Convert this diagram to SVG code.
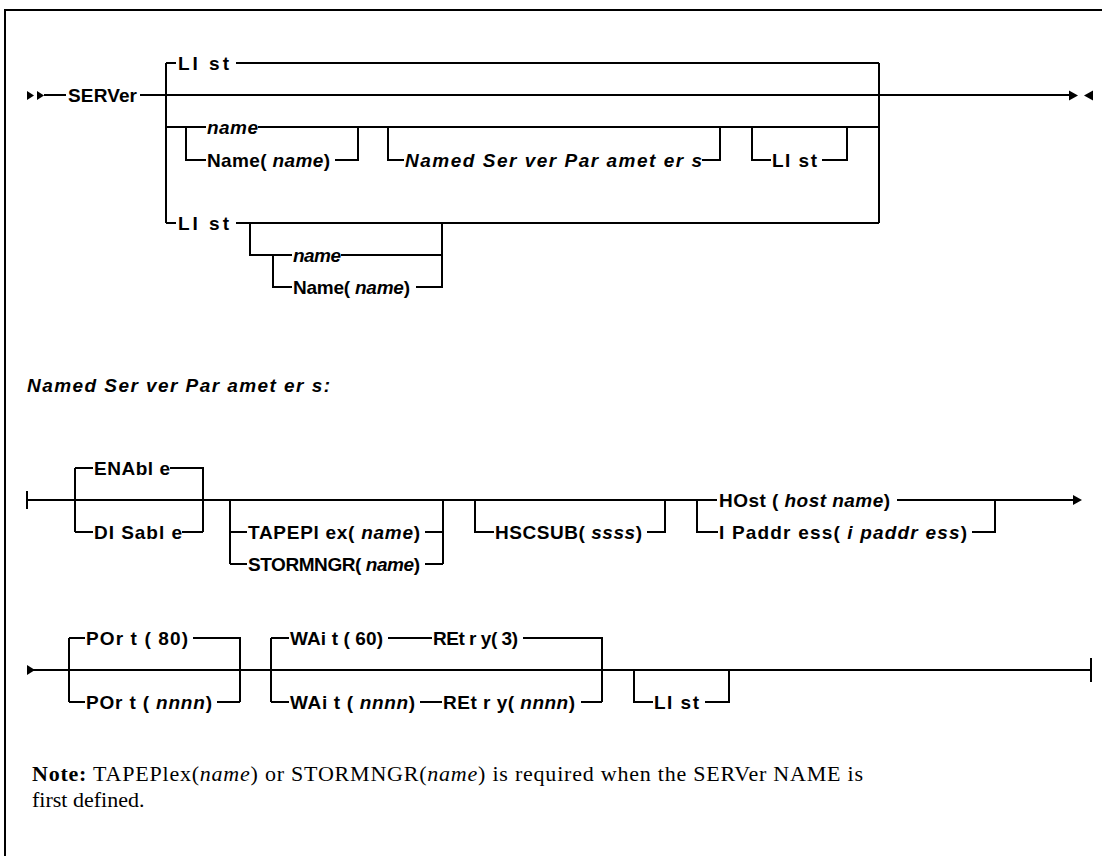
<svg xmlns="http://www.w3.org/2000/svg" width="1102" height="856" viewBox="0 0 1102 856">
<style>
.ln{fill:none;stroke:#000;stroke-width:2;stroke-linecap:butt;stroke-linejoin:miter}
.ah{fill:#000;stroke:none}
.t{font-family:"Liberation Sans",Arial,sans-serif;font-weight:bold;font-size:19px;fill:#000}
.i{font-style:italic}
.n{font-family:"Liberation Serif","Times New Roman",serif;font-size:22px;fill:#000}
.b{font-weight:bold}
</style>
<rect x="0" y="0" width="1102" height="856" fill="#fff"/>
<path class="ln" d="M5,856 V10 H1102"/>

<g id="connectors">
  <!-- top diagram -->
  <polygon class="ah" points="27,91 34,95.5 27,100"/>
  <polygon class="ah" points="37,91 44,95.5 37,100"/>
  <path class="ln" d="M44,95 H66"/>
  <path class="ln" d="M140,95 H1070"/>
  <polygon class="ah" points="1069,90.5 1078,95.5 1069,100.5"/>
  <polygon class="ah" points="1093,90.5 1084,95.5 1093,100.5"/>
  <path class="ln" d="M166,63 V223"/>
  <path class="ln" d="M879,63 V223"/>
  <path class="ln" d="M166,63 H176 M236,63 H879"/>
  <path class="ln" d="M166,127 H206 M258,127 H879"/>
  <path class="ln" d="M186,127 V160 H206 M335,160 H358 V127"/>
  <path class="ln" d="M388,127 V160 H404 M702,160 H720 V127"/>
  <path class="ln" d="M752,127 V160 H771 M822,160 H847 V127"/>
  <path class="ln" d="M166,223 H176 M236,223 H879"/>
  <path class="ln" d="M250,223 V255 H292 M341,255 H442"/>
  <path class="ln" d="M273,255 V287 H292 M416,287 H442 V223"/>
  <!-- named server parameters -->
  <path class="ln" d="M27,491 V509"/>
  <path class="ln" d="M27,500 H717 M897,500 H1074"/>
  <polygon class="ah" points="1073,495 1082,500 1073,505"/>
  <path class="ln" d="M75,468 V532 M75,468 H93 M170,468 H203 V532 M75,532 H93 M182,532 H203"/>
  <path class="ln" d="M230,500 V564 M230,532 H247 M425,532 H443 M230,564 H247 M425,564 H443 M443,500 V564"/>
  <path class="ln" d="M475,500 V532 H494 M647,532 H665 V500"/>
  <path class="ln" d="M697,500 V532 H718 M972,532 H995 V500"/>
  <!-- bottom row -->
  <polygon class="ah" points="27,665 35,670 27,675"/>
  <path class="ln" d="M27,670 H1091 M1091,658 V682"/>
  <path class="ln" d="M69,638 V702 M69,638 H85 M193,638 H240 V702 M69,702 H85 M217,702 H240"/>
  <path class="ln" d="M271,638 V702 M271,638 H289 M388,638 H432 M523,638 H602 V702 M271,702 H289 M420,702 H442 M581,702 H602"/>
  <path class="ln" d="M634,670 V702 H653 M705,702 H729 V670"/>
</g>

<g id="n-server"><text class="t" x="68" y="102" textLength="69" lengthAdjust="spacing">SERVer</text></g>
<g id="n-list1"><text class="t" x="178" y="70" textLength="51" lengthAdjust="spacing">LI st</text></g>
<g id="n-name1"><text class="t i" x="207" y="134" textLength="51" lengthAdjust="spacing">name</text></g>
<g id="n-namep1"><text class="t" x="207" y="167" textLength="123" lengthAdjust="spacing">Name( <tspan class="i">name</tspan>)</text></g>
<g id="n-nsp"><text class="t i" x="405" y="167" textLength="297" lengthAdjust="spacing">Named Ser ver Par amet er s</text></g>
<g id="n-list2"><text class="t" x="772" y="167" textLength="45" lengthAdjust="spacing">LI st</text></g>
<g id="n-list3"><text class="t" x="178" y="230" textLength="51" lengthAdjust="spacing">LI st</text></g>
<g id="n-name2"><text class="t i" x="293" y="262" textLength="48" lengthAdjust="spacing">name</text></g>
<g id="n-namep2"><text class="t" x="293" y="294" textLength="117" lengthAdjust="spacing">Name( <tspan class="i">name</tspan>)</text></g>

<g id="n-heading"><text class="t i" x="27" y="392" textLength="303" lengthAdjust="spacing">Named Ser ver Par amet er s:</text></g>

<g id="n-enable"><text class="t" x="94" y="475" textLength="76" lengthAdjust="spacing">ENAbl e</text></g>
<g id="n-disable"><text class="t" x="94" y="539" textLength="88" lengthAdjust="spacing">DI Sabl e</text></g>
<g id="n-tapeplex"><text class="t" x="248" y="539" textLength="172" lengthAdjust="spacing">TAPEPl ex( <tspan class="i">name</tspan>)</text></g>
<g id="n-stormngr"><text class="t" x="248" y="571" textLength="172" lengthAdjust="spacing">STORMNGR( <tspan class="i">name</tspan>)</text></g>
<g id="n-hscsub"><text class="t" x="495" y="539" textLength="147" lengthAdjust="spacing">HSCSUB( <tspan class="i">ssss</tspan>)</text></g>
<g id="n-host"><text class="t" x="719" y="507" textLength="171" lengthAdjust="spacing">HOst ( <tspan class="i">host name</tspan>)</text></g>
<g id="n-ipaddr"><text class="t" x="719" y="539" textLength="248" lengthAdjust="spacing">I Paddr ess( <tspan class="i">i paddr ess</tspan>)</text></g>

<g id="n-port80"><text class="t" x="86" y="645" textLength="102" lengthAdjust="spacing">POr t ( 80)</text></g>
<g id="n-portn"><text class="t" x="86" y="709" textLength="126" lengthAdjust="spacing">POr t ( <tspan class="i">nnnn</tspan>)</text></g>
<g id="n-wait60"><text class="t" x="290" y="645" textLength="93" lengthAdjust="spacing">WAi t ( 60)</text></g>
<g id="n-retry3"><text class="t" x="433" y="645" textLength="85" lengthAdjust="spacing">REt r y( 3)</text></g>
<g id="n-waitn"><text class="t" x="290" y="709" textLength="125" lengthAdjust="spacing">WAi t ( <tspan class="i">nnnn</tspan>)</text></g>
<g id="n-retryn"><text class="t" x="443" y="709" textLength="132" lengthAdjust="spacing">REt r y( <tspan class="i">nnnn</tspan>)</text></g>
<g id="n-list4"><text class="t" x="654" y="709" textLength="45" lengthAdjust="spacing">LI st</text></g>

<g id="note">
  <text class="n" x="32" y="781" textLength="831" lengthAdjust="spacing"><tspan class="b">Note:</tspan> TAPEPlex(<tspan class="i">name</tspan>) or STORMNGR(<tspan class="i">name</tspan>) is required when the SERVer NAME is</text>
  <text class="n" x="32" y="807">first defined.</text>
</g>
</svg>
